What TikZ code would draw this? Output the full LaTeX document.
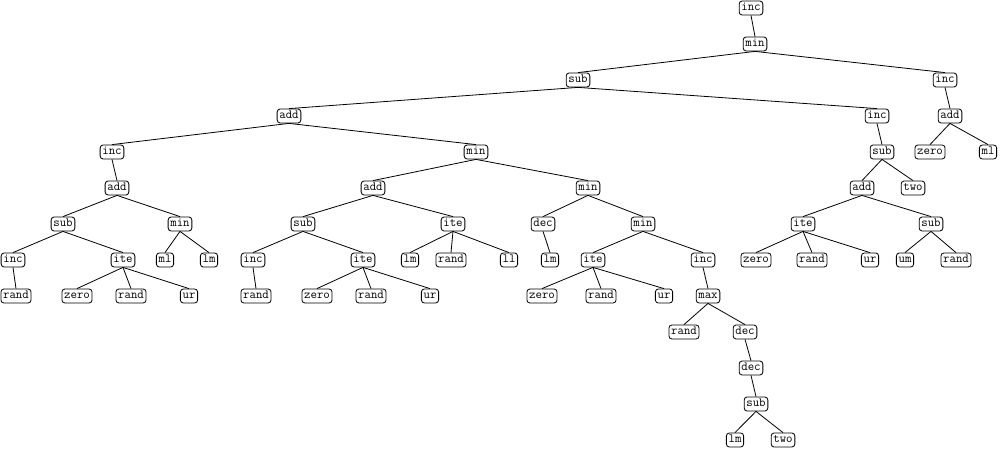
\documentclass[tikz,border=0pt]{standalone}
\begin{document}
\begin{tikzpicture}[x=1pt,y=-1pt,
  tn/.style={draw,rounded corners=3pt,line width=0.8pt,font=\ttfamily\fontsize{12.5}{13}\selectfont,
    inner xsep=2.2pt,inner ysep=0pt,minimum height=14pt,text height=7.5pt,text depth=2.6pt},
  link/.style={line width=0.8pt}]
\useasboundingbox (0,0) rectangle (1004,449);
% rows of the tree, 36pt apart
\def\ra{8}\def\rb{44}\def\rc{80}\def\rd{116}\def\re{152}\def\rf{188}\def\rg{224}
\def\rh{260}\def\ri{296}\def\rj{332}\def\rk{368}\def\rl{404}\def\rm{440}
% level 0--3
\node[tn] (n0) at (751,\ra) {inc};
\node[tn] (n1) at (755,\rb) {min};
\node[tn] (n2) at (578,\rc) {sub};
\node[tn] (n3) at (945,\rc) {inc};
\node[tn] (n4) at (289,\rd) {add};
\node[tn] (n5) at (877,\rd) {inc};
\node[tn] (n6) at (950,\rd) {add};
% level 4
\node[tn] (n7) at (112,\re) {inc};
\node[tn] (n8) at (476,\re) {min};
\node[tn] (n9) at (882,\re) {sub};
\node[tn] (n10) at (930,\re) {zero};
\node[tn] (n11) at (988,\re) {ml};
% level 5
\node[tn] (n12) at (117,\rf) {add};
\node[tn] (n13) at (373,\rf) {add};
\node[tn] (n14) at (588,\rf) {min};
\node[tn] (n15) at (862,\rf) {add};
\node[tn] (n16) at (913,\rf) {two};
% level 6
\node[tn] (n17) at (63,\rg) {sub};
\node[tn] (n18) at (180,\rg) {min};
\node[tn] (n19) at (303,\rg) {sub};
\node[tn] (n20) at (453,\rg) {ite};
\node[tn] (n21) at (543,\rg) {dec};
\node[tn] (n22) at (643,\rg) {min};
\node[tn] (n23) at (803,\rg) {ite};
\node[tn] (n24) at (931,\rg) {sub};
% level 7
\node[tn] (n25) at (13,\rh) {inc};
\node[tn] (n26) at (123,\rh) {ite};
\node[tn] (n27) at (165,\rh) {ml};
\node[tn] (n28) at (209,\rh) {lm};
\node[tn] (n29) at (253,\rh) {inc};
\node[tn] (n30) at (363,\rh) {ite};
\node[tn] (n31) at (410,\rh) {lm};
\node[tn] (n32) at (451,\rh) {rand};
\node[tn] (n33) at (509,\rh) {ll};
\node[tn] (n34) at (550,\rh) {lm};
\node[tn] (n35) at (593,\rh) {ite};
\node[tn] (n36) at (703,\rh) {inc};
\node[tn] (n37) at (756,\rh) {zero};
\node[tn] (n38) at (812,\rh) {rand};
\node[tn] (n39) at (870,\rh) {ur};
\node[tn] (n40) at (905,\rh) {um};
\node[tn] (n41) at (956,\rh) {rand};
% level 8
\node[tn] (n42) at (16,\ri) {rand};
\node[tn] (n43) at (77,\ri) {zero};
\node[tn] (n44) at (131,\ri) {rand};
\node[tn] (n45) at (189,\ri) {ur};
\node[tn] (n46) at (256,\ri) {rand};
\node[tn] (n47) at (317,\ri) {zero};
\node[tn] (n48) at (371,\ri) {rand};
\node[tn] (n49) at (430,\ri) {ur};
\node[tn] (n50) at (542,\ri) {zero};
\node[tn] (n51) at (601,\ri) {rand};
\node[tn] (n52) at (664,\ri) {ur};
\node[tn] (n53) at (708,\ri) {max};
% levels 9--12
\node[tn] (n54) at (684,\rj) {rand};
\node[tn] (n55) at (745,\rj) {dec};
\node[tn] (n56) at (751,\rk) {dec};
\node[tn] (n57) at (756,\rl) {sub};
\node[tn] (n58) at (735,\rm) {lm};
\node[tn] (n59) at (783,\rm) {two};
% parent -> child links
\foreach \p/\c in {0/1,1/2,1/3,2/4,2/5,3/6,4/7,4/8,5/9,6/10,6/11,7/12,8/13,8/14,
  9/15,9/16,12/17,12/18,13/19,13/20,14/21,14/22,15/23,15/24,17/25,17/26,18/27,18/28,
  19/29,19/30,20/31,20/32,20/33,21/34,22/35,22/36,23/37,23/38,23/39,24/40,24/41,
  25/42,26/43,26/44,26/45,29/46,30/47,30/48,30/49,35/50,35/51,35/52,36/53,
  53/54,53/55,55/56,56/57,57/58,57/59}
  \draw[link] (n\p.south) -- (n\c.north);
\end{tikzpicture}
\end{document}
